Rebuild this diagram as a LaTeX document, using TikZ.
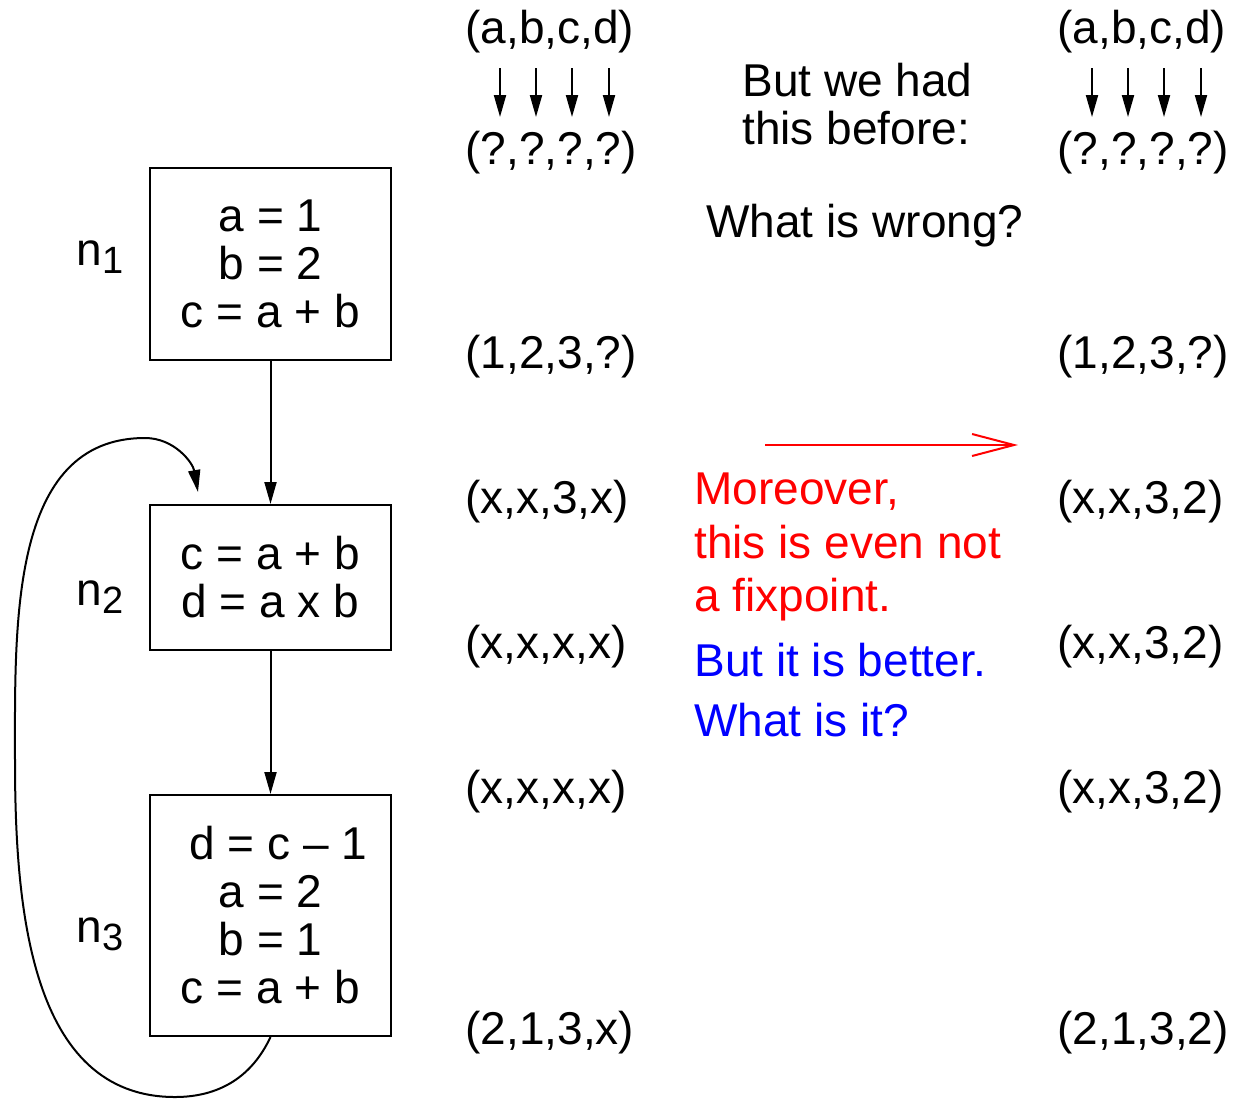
\documentclass[tikz,border=0pt]{standalone}
\usepackage{fontspec}
\setmainfont{Liberation Sans}
\usetikzlibrary{arrows.meta}
\begin{document}
\begin{tikzpicture}[x=0.5pt, y=-0.5pt,
    txt/.style={font=\fontsize{23}{24}\selectfont, inner sep=0pt},
    block/.style={draw, line width=1pt, minimum width=120.5pt, align=center,
                  txt},
    val/.style={txt, anchor=west},
    flow/.style={line width=1pt, -{Triangle[length=11pt,width=6pt]}},
    hint/.style={line width=1pt, red, -{Straight Barb[length=21pt,width=11pt]}}]
  \useasboundingbox (0,0) rectangle (1236,1099);

  % the three blocks of the flow graph
  \node[block, minimum height=96pt]   (n1) at (270.5,264)   {a = 1\\b = 2\\c = a + b};
  \node[block, minimum height=72.5pt] (n2) at (270.5,577.5) {c = a + b\\d = a x b};
  \node[block, minimum height=120.5pt](n3) at (270.5,915.5) {\hspace*{8pt}d = c -- 1\\a = 2\\b = 1\\c = a + b};
  \node[txt] (l1) at (100,257) {n\raisebox{-4pt}{\fontsize{19}{19}\selectfont 1}};
  \node[txt] (l2) at (100,597) {n\raisebox{-4pt}{\fontsize{19}{19}\selectfont 2}};
  \node[txt] (l3) at (100,934) {n\raisebox{-4pt}{\fontsize{19}{19}\selectfont 3}};

  \draw[flow] (n1) -- (n2);
  \draw[flow] (n2) -- (n3);
  \coordinate (loopend) at (198,492);
  \draw[flow] (n3.south) to[out=-115,in=0] (175,1097) to[out=180,in=-90] (15,760)
              to[out=90,in=180] (145,438) to[out=0,in=100] (loopend);

  % first column: values after each statement
  \node[val] (ha) at (465,32)   {(a,b,c,d)};
  \node[val] (hb) at (465,153)  {(?,?,?,?)};
  \node[val] (va) at (465,357)  {(1,2,3,?)};
  \node[val] (vb) at (465,502)  {(x,x,3,x)};
  \node[val] (vc) at (465,647)  {(x,x,x,x)};
  \node[val] (vd) at (465,792)  {(x,x,x,x)};
  \node[val] (ve) at (465,1033) {(2,1,3,x)};
  \foreach \x in {500,536,572,609}
    \draw[flow] (\x,68) -- (\x,117);

  % second column
  \node[val] (Ha) at (1057,32)   {(a,b,c,d)};
  \node[val] (Hb) at (1057,153)  {(?,?,?,?)};
  \node[val] (Va) at (1057,357)  {(1,2,3,?)};
  \node[val] (Vb) at (1057,502)  {(x,x,3,2)};
  \node[val] (Vc) at (1057,647)  {(x,x,3,2)};
  \node[val] (Vd) at (1057,792)  {(x,x,3,2)};
  \node[val] (Ve) at (1057,1033) {(2,1,3,2)};
  \foreach \x in {1092,1128,1164,1201}
    \draw[flow] (\x,68) -- (\x,117);

  % remarks in the middle
  \node[val, align=left] (before) at (742,104) {But we had\\this before:};
  \node[val] (wrong) at (706,226) {What is wrong?};
  \coordinate (hintstart) at (765,445);
  \coordinate (hintend) at (1018,445);
  \draw[hint] (hintstart) -- (hintend);
  \node[val, align=left, red, font=\fontsize{23}{26.75}\selectfont] (moreover) at (694,547)
    {Moreover,\\this is even not\\a fixpoint.};
  \node[val, align=left, blue, font=\fontsize{23}{30}\selectfont] (better) at (694,690)
    {But it is better.\\What is it?};
\end{tikzpicture}
\end{document}
